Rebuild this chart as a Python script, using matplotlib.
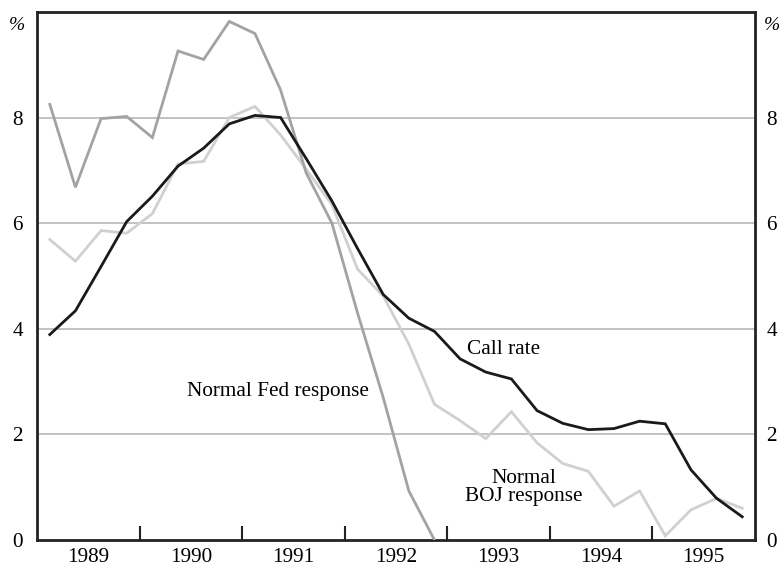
import matplotlib
matplotlib.use("Agg")
import matplotlib.pyplot as plt
import numpy as np

plt.rcParams['font.family'] = ['Liberation Serif', 'DejaVu Serif']

# Quarterly data, 1989 Q1 - 1995 Q4
start_year = 1989
n_quarters = 28
call_rate = [3.89, 4.34, 5.18, 6.03, 6.51, 7.08, 7.42, 7.88, 8.04, 8.00, 7.22, 6.42,
             5.52, 4.65, 4.20, 3.95, 3.43, 3.18, 3.05, 2.45, 2.21, 2.09, 2.11, 2.25,
             2.20, 1.33, 0.79, 0.44]
fed_response = [8.25, 6.68, 7.98, 8.02, 7.62, 9.26, 9.10, 9.82, 9.59, 8.52, 6.95, 6.00,
                4.30, 2.70, 0.93, 0.00]
boj_response = [5.69, 5.28, 5.86, 5.81, 6.18, 7.12, 7.17, 8.00, 8.21, 7.67, 7.02, 6.35,
                5.13, 4.62, 3.71, 2.57, 2.26, 1.92, 2.43, 1.84, 1.45, 1.30, 0.64, 0.93,
                0.08, 0.57, 0.79, 0.60]
years = [1989, 1990, 1991, 1992, 1993, 1994, 1995]
yticks = [0, 2, 4, 6, 8]

t = start_year + (np.arange(n_quarters) + 0.5) / 4.0

fig = plt.figure(figsize=(7.8, 5.67), dpi=100)
ax = fig.add_axes([0.0474, 0.0476, 0.9206, 0.9314])

ax.set_xlim(1989, 1996)
ax.set_ylim(0, 10)

for y in yticks[1:]:
    ax.axhline(y, color='#c2c2c2', lw=1.4, zorder=1)

ax.plot(t[:len(fed_response)], fed_response, color='#a3a3a3', lw=2.0, zorder=3,
        solid_joinstyle='miter')
ax.plot(t[:len(boj_response)], boj_response, color='#d0d0d0', lw=2.0, zorder=2,
        solid_joinstyle='miter')
ax.plot(t[:len(call_rate)], call_rate, color='#1a1a1a', lw=2.0, zorder=4,
        solid_joinstyle='miter')

for s in ax.spines.values():
    s.set_linewidth(2.0)
    s.set_color('#222222')

fs = 15.3

# x ticks: marks at year boundaries, labels centered in each year
ax.set_xticks([y + 1 for y in years[:-1]])
ax.set_xticklabels([])
ax.set_xticks([y + 0.5 for y in years], minor=True)
ax.set_xticklabels([str(y) for y in years], minor=True, fontsize=fs)
ax.tick_params(axis='x', which='major', direction='in', length=10, width=1.5, color='#222222')
ax.tick_params(axis='x', which='minor', length=0, pad=6)

ax.set_yticks(yticks)
ax.set_yticklabels([str(v) for v in yticks], fontsize=fs)
ax.tick_params(axis='y', which='both', length=0, pad=10)

sec = ax.secondary_yaxis('right')
sec.set_yticks(yticks)
sec.set_yticklabels([str(v) for v in yticks], fontsize=fs)
sec.tick_params(axis='y', length=0, pad=8)
sec.spines['right'].set_visible(False)

ax.text(-0.028, 0.974, '%', transform=ax.transAxes, fontsize=14, style='italic',
        ha='center', va='center')
ax.text(1.024, 0.974, '%', transform=ax.transAxes, fontsize=14, style='italic',
        ha='center', va='center')

ax.text(1991.35, 2.81, 'Normal Fed response', fontsize=fs, ha='center', va='center')
ax.text(1993.55, 3.60, 'Call rate', fontsize=fs, ha='center', va='center')
ax.text(1993.75, 1.0, 'Normal\nBOJ response', fontsize=fs, ha='center', va='center',
        linespacing=0.95)

fig.savefig('out.png', dpi=100)
